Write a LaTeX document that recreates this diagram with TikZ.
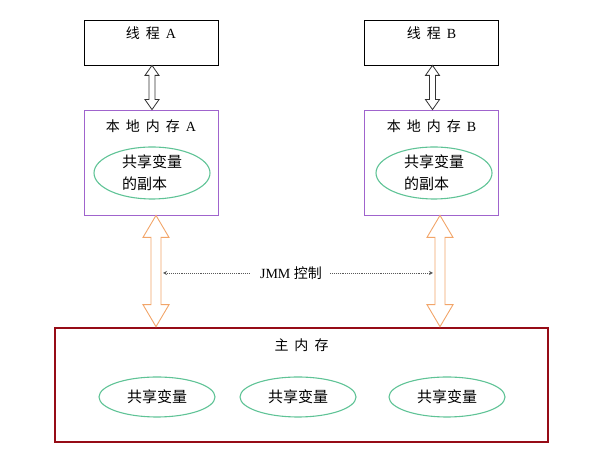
\documentclass[tikz,border=0pt]{standalone}
\usepackage{fontspec}
\setmainfont{Liberation Serif}
\newfontfamily\cjk{Noto Sans CJK SC}
\usetikzlibrary{positioning,calc,arrows.meta,shapes.geometric}

\definecolor{memviolet}{RGB}{160,100,205}
\definecolor{vargreen}{RGB}{95,195,150}
\definecolor{busorange}{RGB}{242,165,105}
\definecolor{memred}{RGB}{150,12,22}

\newcommand{\cgap}{\hspace{6pt}}
% hollow double arrow: style, x shift, from, to, half shaft, half head, head length
\newcommand{\hollowarrow}[7]{%
  \draw[#1] let \p1=(#3), \p2=(#4) in
    (\x1+#2,\y1) -- (\x1+#2+#6,\y1-#7) -- (\x1+#2+#5,\y1-#7) -- (\x1+#2+#5,\y2+#7)
    -- (\x1+#2+#6,\y2+#7) -- (\x1+#2,\y2) -- (\x1+#2-#6,\y2+#7) -- (\x1+#2-#5,\y2+#7)
    -- (\x1+#2-#5,\y1-#7) -- (\x1+#2-#6,\y1-#7) -- cycle;}

\begin{document}
\begin{tikzpicture}[x=1pt,y=1pt,
  thread/.style={draw,line width=0.8pt,minimum width=134pt,minimum height=45pt,inner sep=0pt},
  localmem/.style={draw=memviolet,line width=0.8pt,minimum width=134pt,minimum height=105pt,inner sep=0pt},
  mainmem/.style={draw=memred,line width=2.6pt,minimum width=493pt,minimum height=114pt,inner sep=0pt},
  copyvar/.style={draw=vargreen,line width=1.1pt,ellipse,minimum width=116pt,minimum height=52pt,inner sep=0pt,align=left,font=\fontsize{15}{22}\selectfont\cjk},
  sharedvar/.style={draw=vargreen,line width=1.1pt,ellipse,minimum width=116pt,minimum height=40pt,inner sep=0pt,font=\fontsize{15}{18}\selectfont\cjk},
  title/.style={inner sep=0pt,anchor=north,font=\fontsize{14}{16}\selectfont},
  bus/.style={draw=busorange,line width=0.9pt,fill=white},
  link/.style={draw=black!80,line width=0.8pt,fill=white},
  ctl/.style={draw=black!65,densely dotted,line width=0.9pt,-{Stealth[length=4pt,width=4pt]}}]
  \useasboundingbox (0,0) rectangle (611,470);

  % threads
  \node[thread] (thA) at (151,427.5) {};
  \node[title,below=7pt of thA.north] {{\cjk 线\cgap 程}\cgap A};
  \node[thread] (thB) at (431.5,427.5) {};
  \node[title,below=7pt of thB.north] {{\cjk 线\cgap 程}\cgap B};

  % local memories
  \node[localmem] (lA) at (151,307.5) {};
  \node[title,below=10pt of lA.north] {{\cjk 本\cgap 地\cgap 内\cgap 存}\cgap A};
  \node[copyvar] (cA) at (152,297) {共享变量\\的副本};
  \node[localmem] (lB) at (431.5,307.5) {};
  \node[title,below=10pt of lB.north] {{\cjk 本\cgap 地\cgap 内\cgap 存}\cgap B};
  \node[copyvar] (cB) at (434,297) {共享变量\\的副本};

  % main memory
  \node[mainmem] (mm) at (301.5,85) {};
  \node[title,below=12pt of mm.north] {\cjk 主\cgap 内\cgap 存};
  \node[sharedvar] (v1) at (157,73) {共享变量};
  \node[sharedvar] (v2) at (298,73) {共享变量};
  \node[sharedvar] (v3) at (447,73) {共享变量};

  % arrows
  \hollowarrow{link}{1}{thA.south}{lA.north}{3}{7}{10}
  \hollowarrow{link}{1}{thB.south}{lB.north}{3}{7}{10}
  \hollowarrow{bus}{5}{lA.south}{mm.north}{5}{13}{22}
  \hollowarrow{bus}{8.5}{lB.south}{mm.north}{5}{13}{22}

  % JMM control
  \node[inner sep=0pt,font=\fontsize{14}{16}\selectfont] (jmm) at (291,197) {JMM {\cjk 控制}};
  \coordinate (ctlA) at (163,197);
  \coordinate (ctlB) at (433,197);
  \draw[ctl] ([xshift=-10pt]jmm.west) -- (ctlA);
  \draw[ctl] ([xshift=8pt]jmm.east) -- (ctlB);
\end{tikzpicture}
\end{document}
